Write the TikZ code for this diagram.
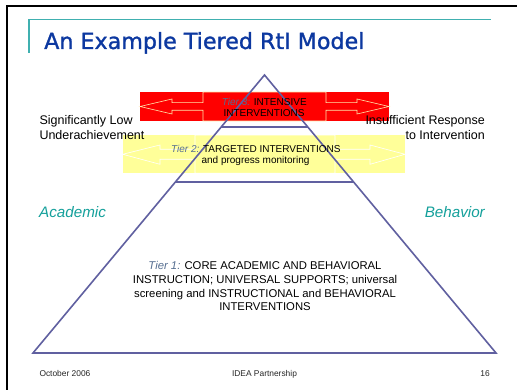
\documentclass[tikz,border=0pt]{standalone}
\usepackage{fontspec}
\setmainfont{Liberation Sans}
\newfontfamily\titlefont[FakeBold=1.2]{DejaVu Sans}
\usetikzlibrary{calc}
\definecolor{titleblue}{RGB}{12,56,160}
\definecolor{frameteal}{RGB}{64,176,176}
\definecolor{labelteal}{RGB}{20,160,155}
\definecolor{pyr}{RGB}{96,96,160}
\definecolor{tierblue}{RGB}{85,110,145}
\definecolor{bandyellow}{RGB}{255,255,153}
\definecolor{bandred}{RGB}{255,0,0}
\definecolor{arrowpale}{RGB}{255,230,170}
\newcommand\tierlab[1]{\textcolor{tierblue}{\itshape #1}}
\tikzset{
  txt/.style={inner sep=0pt, anchor=base},
  tthree/.style={txt, font=\fontsize{10}{12}\selectfont},
  ttwo/.style={txt, font=\fontsize{10}{12}\selectfont},
  tone/.style={txt, font=\fontsize{11.3}{13.9}\selectfont},
  sidelab/.style={inner sep=0pt, font=\fontsize{12.5}{14}\selectfont},
  domlab/.style={inner sep=0pt, font=\fontsize{15.2}{17}\selectfont\itshape, text=labelteal},
  foot/.style={inner sep=0pt, font=\fontsize{8.4}{10}\selectfont, text=black!85},
  pyrline/.style={draw=pyr, line width=1.6pt},
  bandarrow/.style={line width=0.6pt}
}
\begin{document}
\begin{tikzpicture}[x=1pt,y=-1pt]
\useasboundingbox[fill=white] (0,0) rectangle (517,390);
% slide frame
\draw[line width=1.8pt] (517,5.8) -- (6.6,5.8) -- (6.6,390);
\draw[frameteal, line width=1.3pt] (29,53) -- (29,19.6) -- (491,19.6);
% title
\node[anchor=base west, inner sep=0pt, font=\titlefont\fontsize{22.2}{26}\selectfont, text=titleblue] (title) at (44,49) {An Example Tiered RtI Model};
% red band (tier 3)
\fill[bandred] (140,92) rectangle (389,121);
\draw[bandarrow, arrowpale] (140,106.5) -- (172,99) -- (172,102.7) -- (203,102.7) -- (203,92) -- (326,92) -- (326,102.7) -- (357,102.7) -- (357,99) -- (389,106.5) -- (357,114) -- (357,110.3) -- (326,110.3) -- (326,121) -- (203,121) -- (203,110.3) -- (172,110.3) -- (172,114) -- cycle;
% yellow band (tier 2)
\fill[bandyellow] (122.7,135) rectangle (405,173.3);
\draw[bandarrow, white] (122.7,154.3) -- (160,145) -- (160,149.3) -- (195,149.3) -- (195,135) -- (335,135) -- (335,149.3) -- (370,149.3) -- (370,145) -- (405,154.3) -- (370,164.3) -- (370,159.3) -- (335,159.3) -- (335,173.3) -- (195,173.3) -- (195,159.3) -- (160,159.3) -- (160,164.3) -- cycle;
% pyramid
\coordinate (apex) at (264.5,75);
\coordinate (bl) at (33,353);
\coordinate (br) at (496,353);
\draw[pyrline, line join=miter] (apex) -- (br) -- (bl) -- cycle;
\draw[pyrline] ($(apex)!0.187!(bl)$) -- ($(apex)!0.187!(br)$);
\draw[pyrline] ($(apex)!0.385!(bl)$) -- ($(apex)!0.385!(br)$);
% tier texts
\node[tthree] (t3a) at (264.3,105.7) {\tierlab{Tier 3:} INTENSIVE};
\node[tthree] (t3b) at (264,116.7) {INTERVENTIONS};
\node[ttwo] (t2a) at (255.8,152.3) {\tierlab{Tier 2:} TARGETED INTERVENTIONS};
\node[ttwo] (t2b) at (255.5,163.3) {and progress monitoring};
\node[tone] (t1a) at (265,269.3) {\tierlab{Tier 1:} CORE ACADEMIC AND BEHAVIORAL};
\node[tone] (t1b) at (265,283.2) {INSTRUCTION; UNIVERSAL SUPPORTS; universal};
\node[tone] (t1c) at (265,297.1) {screening and INSTRUCTIONAL and BEHAVIORAL};
\node[tone] (t1d) at (265,311.0) {INTERVENTIONS};
% side labels
\node[sidelab, anchor=base west] (sl1) at (39.3,125) {Significantly Low};
\node[sidelab, anchor=base west] (sl2) at (39.3,139.3) {Underachievement};
\node[sidelab, anchor=base east] (ir1) at (485,125) {Insufficient Response};
\node[sidelab, anchor=base east] (ir2) at (485,139.3) {to Intervention};
\node[domlab, anchor=base west] (acad) at (39,217.5) {Academic};
\node[domlab, anchor=base east] (behav) at (485,217.5) {Behavior};
% footer
\node[foot, anchor=base west] (date) at (39.3,376) {October 2006};
\node[foot, anchor=base] (org) at (264.5,376) {IDEA Partnership};
\node[foot, anchor=base east] (page) at (490,376) {16};
\end{tikzpicture}
\end{document}
